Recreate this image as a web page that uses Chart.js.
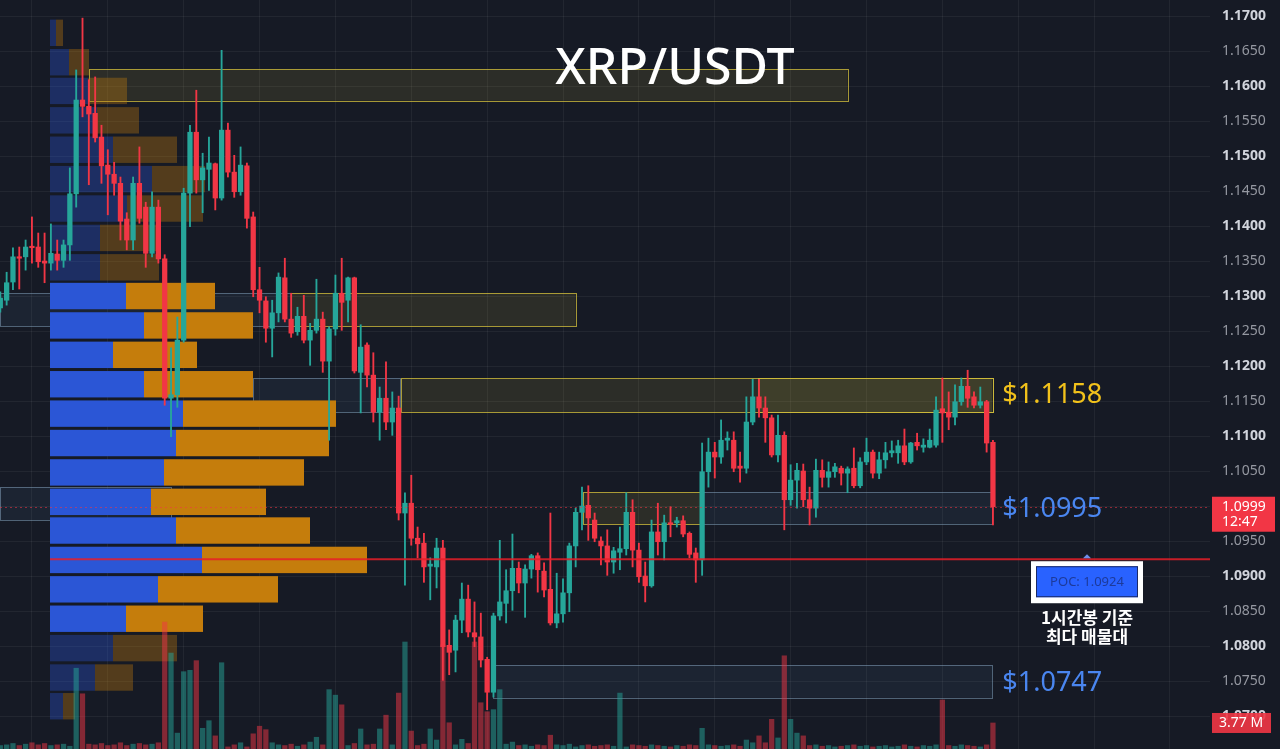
<!DOCTYPE html>
<html>
<head>
<meta charset="utf-8">
<script src="https://cdn.jsdelivr.net/npm/chart.js@4.4.1/dist/chart.umd.min.js"></script>
<style>
  html, body { margin: 0; padding: 0; background: #161a25; }
  canvas { display: block; }
</style>
</head>
<body>
<canvas id="c" width="1280" height="749"></canvas>
<script>
// 1h candles, XRP/USDT
const opens = [
  1.1283,1.1294,1.1320,1.1356,1.1356,1.1371,1.1370,1.1350,1.1347,1.1360,
  1.1351,1.1373,1.1446,1.1580,1.1571,1.1561,1.1527,1.1487,1.1474,1.1461,
  1.1410,1.1380,1.1461,1.1427,1.1361,1.1427,1.1353,1.1154,1.1159,1.1237,
  1.1447,1.1534,1.1466,1.1481,1.1489,1.1440,1.1537,1.1477,1.1449,1.1486,
  1.1413,1.1309,1.1293,1.1254,1.1276,1.1326,1.1267,1.1249,1.1271,1.1237,
  1.1251,1.1267,1.1207,1.1253,1.1304,1.1294,1.1326,1.1191,1.1230,1.1187,
  1.1134,1.1154,1.1120,1.1140,1.0990,1.1004,1.0954,1.0947,1.0914,1.0913,
  1.0940,1.0801,1.0794,1.0837,1.0867,1.0819,1.0813,1.0781,1.0734,1.0843,
  1.0861,1.0879,1.0911,1.0890,1.0910,1.0929,1.0907,1.0881,1.0833,1.0846,
  1.0876,1.0943,1.0991,1.1001,1.0980,1.0950,1.0943,1.0920,1.0934,1.0939,
  1.0991,1.0937,1.0900,1.0886,1.0963,1.0949,1.0976,1.0976,1.0979,1.0961,
  1.0933,1.0923,1.1049,1.1077,1.1070,1.1094,1.1094,1.1057,1.1054,1.1120,
  1.1156,1.1140,1.1126,1.1073,1.1101,1.1009,1.1037,1.1050,1.1009,1.0997,
  1.1051,1.1041,1.1049,1.1054,1.1047,1.1054,1.1029,1.1063,1.1077,1.1047,
  1.1066,1.1076,1.1076,1.1086,1.1063,1.1091,1.1084,1.1084,1.1087,1.1139,
  1.1134,1.1127,1.1149,1.1171,1.1156,1.1144,1.1149,1.1091
];
const highs = [
  1.1306,1.1334,1.1369,1.1370,1.1380,1.1413,1.1390,1.1390,1.1403,1.1380,
  1.1380,1.1483,1.1623,1.1697,1.1609,1.1613,1.1544,1.1509,1.1491,1.1470,
  1.1419,1.1470,1.1513,1.1434,1.1449,1.1437,1.1359,1.1226,1.1270,1.1454,
  1.1544,1.1594,1.1504,1.1527,1.1490,1.1651,1.1547,1.1501,1.1513,1.1490,
  1.1420,1.1341,1.1299,1.1294,1.1333,1.1354,1.1304,1.1284,1.1301,1.1261,
  1.1324,1.1277,1.1256,1.1330,1.1354,1.1327,1.1327,1.1259,1.1233,1.1219,
  1.1170,1.1206,1.1163,1.1157,1.1019,1.1044,1.0970,1.0961,1.0926,1.0954,
  1.0951,1.0823,1.0844,1.0890,1.0887,1.0863,1.0847,1.0784,1.0847,1.0951,
  1.0909,1.0960,1.0920,1.0916,1.0931,1.0933,1.0919,1.0990,1.0904,1.0896,
  1.0947,1.0997,1.1027,1.1029,1.0990,1.0956,1.0966,1.0941,1.0970,1.1019,
  1.1009,1.0947,1.0920,1.0980,1.1004,1.0987,1.0999,1.0984,1.0986,1.0963,
  1.0940,1.1090,1.1097,1.1091,1.1123,1.1106,1.1106,1.1077,1.1156,1.1181,
  1.1181,1.1156,1.1130,1.1130,1.1106,1.1059,1.1061,1.1060,1.1027,1.1067,
  1.1066,1.1063,1.1061,1.1057,1.1056,1.1083,1.1069,1.1097,1.1080,1.1077,
  1.1091,1.1093,1.1094,1.1110,1.1091,1.1104,1.1096,1.1110,1.1156,1.1183,
  1.1163,1.1173,1.1183,1.1194,1.1163,1.1170,1.1151,1.1094
];
const lows = [
  1.1277,1.1287,1.1309,1.1310,1.1337,1.1347,1.1341,1.1319,1.1337,1.1337,
  1.1341,1.1351,1.1427,1.1556,1.1459,1.1520,1.1461,1.1416,1.1444,1.1380,
  1.1366,1.1366,1.1404,1.1341,1.1356,1.1347,1.1144,1.1099,1.1141,1.1234,
  1.1399,1.1447,1.1419,1.1451,1.1423,1.1437,1.1470,1.1441,1.1444,1.1397,
  1.1299,1.1276,1.1234,1.1213,1.1263,1.1263,1.1241,1.1244,1.1233,1.1201,
  1.1247,1.1191,1.1094,1.1244,1.1251,1.1263,1.1190,1.1133,1.1170,1.1120,
  1.1094,1.1109,1.1101,1.0980,1.0887,1.0944,1.0926,1.0891,1.0866,1.0883,
  1.0751,1.0759,1.0763,1.0819,1.0813,1.0799,1.0770,1.0709,1.0727,1.0837,
  1.0833,1.0851,1.0876,1.0841,1.0897,1.0877,1.0870,1.0830,1.0826,1.0834,
  1.0849,1.0913,1.0966,1.0951,1.0949,1.0916,1.0901,1.0904,1.0909,1.0930,
  1.0913,1.0891,1.0863,1.0884,1.0930,1.0923,1.0956,1.0970,1.0956,1.0926,
  1.0891,1.0901,1.1027,1.1040,1.1061,1.1080,1.1049,1.1034,1.1047,1.1116,
  1.1127,1.1091,1.1070,1.1063,1.0966,1.1001,1.0997,1.0999,1.0973,1.0984,
  1.1027,1.1027,1.1041,1.1030,1.1019,1.1026,1.1026,1.1059,1.1040,1.1039,
  1.1054,1.1070,1.1061,1.1059,1.1061,1.1080,1.1077,1.1083,1.1084,1.1091,
  1.1109,1.1116,1.1144,1.1141,1.1140,1.1140,1.1077,1.0973
];
const closes = [
  1.1297,1.1319,1.1356,1.1354,1.1370,1.1369,1.1349,1.1347,1.1361,1.1351,
  1.1373,1.1446,1.1580,1.1571,1.1560,1.1526,1.1486,1.1474,1.1461,1.1407,
  1.1380,1.1461,1.1411,1.1361,1.1427,1.1353,1.1154,1.1159,1.1237,1.1447,
  1.1534,1.1466,1.1483,1.1490,1.1440,1.1537,1.1477,1.1449,1.1487,1.1411,
  1.1309,1.1294,1.1254,1.1276,1.1327,1.1267,1.1247,1.1271,1.1237,1.1251,
  1.1267,1.1207,1.1253,1.1304,1.1291,1.1326,1.1193,1.1227,1.1187,1.1134,
  1.1154,1.1120,1.1140,1.0990,1.1004,1.0954,1.0946,1.0913,1.0917,1.0940,
  1.0799,1.0791,1.0837,1.0867,1.0820,1.0813,1.0780,1.0734,1.0843,1.0863,
  1.0879,1.0911,1.0890,1.0910,1.0929,1.0909,1.0880,1.0833,1.0846,1.0876,
  1.0943,1.0991,1.1000,1.0983,1.0954,1.0943,1.0920,1.0936,1.0939,1.0991,
  1.0937,1.0899,1.0886,1.0963,1.0949,1.0976,1.0974,1.0979,1.0960,1.0931,
  1.0923,1.1049,1.1077,1.1070,1.1094,1.1097,1.1054,1.1054,1.1120,1.1156,
  1.1140,1.1126,1.1073,1.1101,1.1009,1.1037,1.1051,1.1009,1.0997,1.1051,
  1.1041,1.1049,1.1056,1.1047,1.1053,1.1029,1.1063,1.1077,1.1047,1.1066,
  1.1076,1.1079,1.1086,1.1063,1.1090,1.1086,1.1087,1.1094,1.1137,1.1133,
  1.1127,1.1149,1.1171,1.1154,1.1144,1.1149,1.1090,1.0999
];
// volume, millions
const volumes = [
  0.5,0.6,0.8,0.5,0.7,0.9,0.6,0.8,0.5,0.6,
  0.7,0.4,11.7,8.0,0.7,0.6,0.8,0.5,0.6,0.9,
  0.5,0.7,0.8,0.6,0.7,0.9,18.4,13.9,2.3,11.2,
  11.4,12.8,3.0,4.1,1.9,12.5,0.3,0.6,0.9,0.3,
  2.2,3.3,2.8,0.9,0.6,0.5,0.7,0.4,0.6,1.0,
  1.7,0.6,8.6,7.8,6.4,0.5,0.8,2.9,0.6,0.7,
  2.9,4.9,0.6,8.1,15.5,2.6,0.5,0.7,2.9,1.3,
  15.1,3.8,0.6,1.4,0.8,15.5,6.7,5.4,5.7,8.6,
  0.7,1.0,0.5,0.6,0.4,0.6,0.5,2.0,0.6,0.5,
  0.7,0.3,0.5,0.6,0.4,0.5,0.6,0.4,8.1,0.3,
  0.6,0.5,0.4,0.6,0.5,0.4,0.3,0.5,0.4,0.6,
  0.5,3.0,0.6,0.5,0.4,0.5,0.6,0.4,1.3,0.9,
  1.9,0.9,4.3,1.6,13.5,4.3,2.3,1.9,0.5,0.6,
  0.4,0.5,0.3,0.4,0.5,0.6,0.4,0.5,0.3,0.4,
  0.5,0.3,0.4,0.6,0.4,0.3,0.5,0.4,0.6,7.1,
  0.5,0.4,0.6,0.5,0.4,0.3,0.6,3.77
];

// volume profile rows (top to bottom), millions
const vpPrice = [1.1676,1.1634,1.1593,1.1551,1.1509,1.1467,1.1425,1.1383,1.1341,1.1300,
                 1.1258,1.1216,1.1174,1.1132,1.1090,1.1048,1.1006,1.0965,1.0923,1.0881,
                 1.0839,1.0797,1.0755,1.0714];
const vpBuy  = [1.2,3.8,7.6,9.4,12.6,20.4,15.4,10.0,10.0,15.2,18.8,12.6,18.8,26.6,25.2,22.8,20.2,25.2,30.4,21.6,15.2,12.6,9.0,2.6];
const vpSell = [1.4,4.0,7.8,8.4,12.8,10.6,15.2,11.6,11.8,17.8,21.8,16.8,21.8,30.6,30.6,28.0,23.0,26.8,33.0,24.0,15.4,12.8,7.6,2.4];
const valueAreaHigh = 1.1300;
const valueAreaLow = 1.0839;
const pocPrice = 1.0924;

// zones: candle index range and price range
const zoneFrom = [14.0, -0.1, 45.9, 40.0, 63.3, 119.8, -0.1, 92.1, 110.8, 78.0];
const zoneTo   = [134.0, 45.9, 91.0, 63.3, 156.9, 156.9, 26.9, 110.8, 156.9, 156.9];
const zoneHigh = [1.1624, 1.1304, 1.1304, 1.1183, 1.1183, 1.1183, 1.1027, 1.1020, 1.1020, 1.0773];
const zoneLow  = [1.1579, 1.1257, 1.1257, 1.1134, 1.1134, 1.1134, 1.0980, 1.0974, 1.0974, 1.0726];
const zoneType = ['supply','demand','supply','demand','supply','supply','demand','supply','demand','demand'];

const levels = [1.1158, 1.0995, 1.0747];
const levelType = ['supply', 'demand', 'demand'];

const yTicks = [1.0700,1.0750,1.0800,1.0850,1.0900,1.0950,1.1000,1.1050,1.1100,1.1150,
                1.1200,1.1250,1.1300,1.1350,1.1400,1.1450,1.1500,1.1550,1.1600,1.1650,1.1700];
const xGrid = [5,17,29,41,53,65,77,89,101,113,125,137,149,161,173,185];

const UP = '#26a69a', DOWN = '#f23645';
const FONT = '"Noto Sans", "Noto Sans CJK KR", sans-serif';
const isUp = opens.map((o, i) => closes[i] >= o);
const isMajor = c => !!(c && c.tick) && Math.round(c.tick.value * 10000) % 100 === 0;

const overlay = {
  id: 'overlay',
  beforeDatasetsDraw(chart) {
    const { ctx, chartArea: a, scales: { x, y, xv } } = chart;
    ctx.save();
    ctx.beginPath(); ctx.rect(a.left, a.top, a.width, a.height); ctx.clip();
    const zoneStyle = {
      supply: { fill: 'rgba(190,175,60,0.13)', line: 'rgba(215,195,60,0.75)' },
      demand: { fill: 'rgba(90,130,165,0.10)', line: 'rgba(130,160,185,0.55)' }
    };
    zoneFrom.forEach((f, i) => {
      const x0 = x.getPixelForValue(f), x1 = x.getPixelForValue(zoneTo[i]);
      const y0 = y.getPixelForValue(zoneHigh[i]), y1 = y.getPixelForValue(zoneLow[i]);
      const s = zoneStyle[zoneType[i]];
      ctx.fillStyle = s.fill;
      ctx.fillRect(x0, y0, x1 - x0, y1 - y0);
      ctx.strokeStyle = s.line; ctx.lineWidth = 1;
      ctx.strokeRect(Math.round(x0) + 0.5, Math.round(y0) + 0.5, Math.round(x1 - x0), Math.round(y1 - y0));
    });
    // volume profile
    const pitch = Math.abs(y.getPixelForValue(vpPrice[0]) - y.getPixelForValue(vpPrice[1]));
    const h = pitch - 3;
    const x0 = xv.getPixelForValue(0);
    vpPrice.forEach((p, i) => {
      const inVA = p <= valueAreaHigh + 1e-6 && p >= valueAreaLow - 1e-6;
      const yc = y.getPixelForValue(p);
      const xb = xv.getPixelForValue(vpBuy[i]);
      const xs = xv.getPixelForValue(vpBuy[i] + vpSell[i]);
      ctx.globalAlpha = inVA ? 1 : 0.35;
      ctx.fillStyle = '#2b56d6';
      ctx.fillRect(x0, yc - h / 2, xb - x0, h);
      ctx.fillStyle = '#c57d0c';
      ctx.fillRect(xb, yc - h / 2, xs - xb, h);
    });
    ctx.restore();
  },
  afterDatasetsDraw(chart) {
    const { ctx, chartArea: a, scales: { x, y, xv } } = chart;
    ctx.save();
    // last price dotted line
    const yl = Math.round(y.getPixelForValue(closes[closes.length - 1])) + 0.5;
    ctx.strokeStyle = 'rgba(242,54,69,0.55)'; ctx.lineWidth = 1; ctx.setLineDash([2, 3]);
    ctx.beginPath(); ctx.moveTo(a.left, yl); ctx.lineTo(a.right, yl); ctx.stroke();
    ctx.setLineDash([]);
    // POC line
    const yp = y.getPixelForValue(pocPrice);
    ctx.strokeStyle = 'rgba(230,30,40,0.85)'; ctx.lineWidth = 2;
    ctx.beginPath(); ctx.moveTo(xv.getPixelForValue(0), yp); ctx.lineTo(a.right, yp); ctx.stroke();

    // level labels
    const xr = x.getPixelForValue(156.9) + 10;
    ctx.font = '27px ' + FONT; ctx.textBaseline = 'middle'; ctx.textAlign = 'left';
    levels.forEach((lv, i) => {
      ctx.fillStyle = levelType[i] === 'supply' ? '#f2c21b' : '#4a86f0';
      ctx.fillText('$' + lv.toFixed(4), xr, y.getPixelForValue(lv));
    });

    // POC box
    const cx = 1087;
    ctx.fillStyle = '#ffffff';
    ctx.fillRect(cx - 56, yp + 2, 112, 42);
    ctx.fillStyle = '#2962ff';
    ctx.fillRect(cx - 51, yp + 7, 102, 31);
    ctx.strokeStyle = '#1b2a66'; ctx.lineWidth = 1;
    ctx.strokeRect(cx - 50.5, yp + 7.5, 101, 30);
    ctx.fillStyle = '#1d3a9a';
    ctx.font = '13px ' + FONT; ctx.textAlign = 'center';
    ctx.fillText('POC: ' + pocPrice.toFixed(4), cx, yp + 23);
    ctx.fillStyle = '#6f8fe8';
    ctx.beginPath(); ctx.moveTo(cx - 4, yp - 1); ctx.lineTo(cx + 4, yp - 1); ctx.lineTo(cx, yp - 5); ctx.fill();
    ctx.fillStyle = '#ffffff';
    ctx.font = 'bold 17px "Noto Sans CJK KR", sans-serif';
    ctx.fillText('1시간봉 기준', cx, yp + 58);
    ctx.fillText('최다 매물대', cx, yp + 77);

    // title
    ctx.font = '500 50px ' + FONT;
    ctx.fillStyle = '#ffffff';
    ctx.fillText('XRP/USDT', 675, 70);
    ctx.restore();
  },
  afterDraw(chart) {
    const { ctx, chartArea: a, scales: { y, yv } } = chart;
    ctx.save();
    const yl = y.getPixelForValue(closes[closes.length - 1]);
    ctx.fillStyle = '#f23645';
    ctx.fillRect(a.right + 2, yl - 10, 63, 35);
    ctx.fillStyle = '#ffffff'; ctx.font = '14px ' + FONT;
    ctx.textAlign = 'left'; ctx.textBaseline = 'middle';
    ctx.fillText(closes[closes.length - 1].toFixed(4), a.right + 12, yl);
    ctx.fillText('12:47', a.right + 12, yl + 15);
    const yvTop = yv.getPixelForValue(volumes[volumes.length - 1]);
    ctx.fillStyle = 'rgba(242,54,69,0.9)';
    ctx.fillRect(a.right + 2, yvTop - 10, 59, 20);
    ctx.fillStyle = '#ffffff';
    ctx.fillText(volumes[volumes.length - 1].toFixed(2) + ' M', a.right + 9, yvTop);
    ctx.restore();
  }
};

const noPad = s => { s.paddingTop = 0; s.paddingBottom = 0; s.paddingLeft = 0; s.paddingRight = 0; };
const idx = opens.map((_, i) => i);
new Chart(document.getElementById('c'), {
  type: 'bar',
  data: {
    datasets: [
      {
        label: 'body',
        data: idx.map(i => ({ x: i, y: [opens[i], closes[i]] })),
        backgroundColor: idx.map(i => isUp[i] ? UP : DOWN),
        barThickness: 4.6, minBarLength: 1.5, grouped: false, order: 1,
        yAxisID: 'y'
      },
      {
        label: 'wick',
        data: idx.map(i => ({ x: i, y: [lows[i], highs[i]] })),
        backgroundColor: idx.map(i => isUp[i] ? UP : DOWN),
        barThickness: 1.2, grouped: false, order: 2,
        yAxisID: 'y'
      },
      {
        label: 'volume',
        data: idx.map(i => ({ x: i, y: volumes[i] })),
        backgroundColor: idx.map(i => isUp[i] ? 'rgba(38,166,154,0.5)' : 'rgba(242,54,69,0.5)'),
        barThickness: 4.6, grouped: false, order: 3,
        yAxisID: 'yv'
      }
    ]
  },
  options: {
    responsive: false,
    animation: false,
    layout: { padding: 0 },
    plugins: { legend: { display: false }, tooltip: { enabled: false } },
    scales: {
      x: {
        type: 'linear', min: -0.05, max: 191.33, offset: false,
        grid: { color: 'rgba(255,255,255,0.055)', drawTicks: false, offset: false },
        border: { display: false },
        ticks: { display: false },
        afterBuildTicks: s => { s.ticks = xGrid.map(v => ({ value: v })); },
        afterFit: s => { s.height = 0; noPad(s); }
      },
      xv: { type: 'linear', axis: 'x', display: false, offset: false, min: -10, max: 232 },
      y: {
        type: 'linear', position: 'right', min: 1.06529, max: 1.17229,
        grid: { color: 'rgba(255,255,255,0.055)', drawTicks: false },
        border: { display: false },
        afterBuildTicks: s => { s.ticks = yTicks.filter(v => v >= s.min && v <= s.max).map(v => ({ value: v })); },
        afterFit: s => { s.width = 70; noPad(s); },
        ticks: {
          padding: 12,
          callback: v => Number(v).toFixed(4),
          color: c => isMajor(c) ? '#d1d4dc' : '#9598a1',
          font: c => ({ family: FONT, size: 14, weight: isMajor(c) ? 'bold' : 'normal' })
        }
      },
      yv: { type: 'linear', axis: 'y', display: false, min: 0, max: 108.5 }
    }
  },
  plugins: [overlay]
});
</script>
</body>
</html>
